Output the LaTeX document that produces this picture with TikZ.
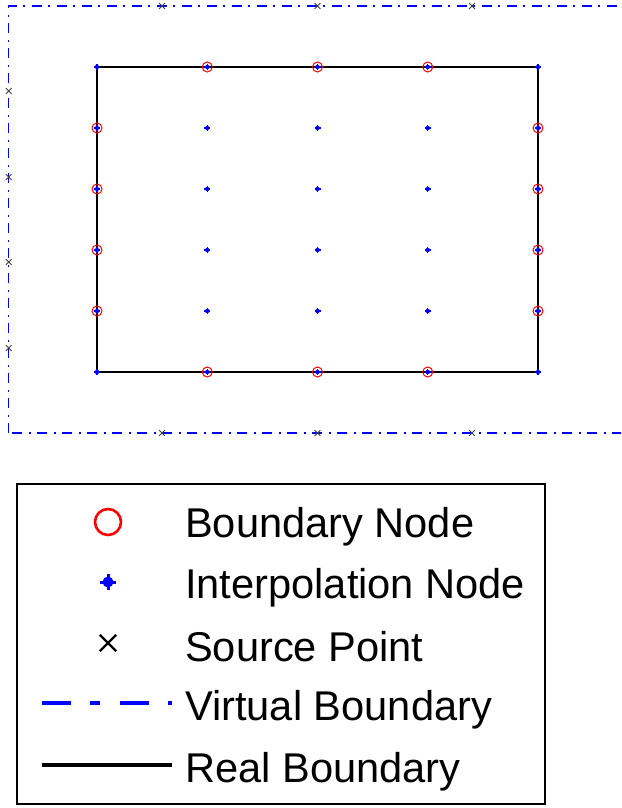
\documentclass[tikz,border=0pt]{standalone}
\usepackage{fontspec}
\setmainfont{Liberation Sans}
\usetikzlibrary{shapes.misc}
\definecolor{vblue}{RGB}{0,0,255}
\definecolor{bred}{RGB}{255,0,0}
\tikzset{
  realb/.style={draw=black, line width=1.3pt},
  virtb/.style={draw=vblue, line width=1.2pt, dash pattern=on 10pt off 6pt on 2pt off 7pt},
  bnode/.style={circle, draw=bred, line width=1pt, inner sep=0pt, minimum size=10pt},
  inode/.style={circle, fill=vblue, inner sep=0pt, minimum size=4.5pt},
  spoint/.style={cross out, draw=black!75, line width=0.8pt, inner sep=0pt, minimum size=5pt},
  lgbnode/.style={circle, draw=bred, line width=2.6pt, inner sep=0pt, minimum size=26pt},
  lginode/.style={circle, fill=vblue, inner sep=0pt, minimum size=11pt},
  lgspoint/.style={cross out, draw=black, line width=2.4pt, inner sep=0pt, minimum size=14pt},
  lgtext/.style={anchor=base west, inner sep=0pt, font=\fontsize{41.6}{45}\selectfont},
}
\begin{document}
\begin{tikzpicture}[x=1pt, y=-1pt]
\clip (0,0) rectangle (621,808);
\fill[white] (0,0) rectangle (621,808);
% virtual boundary
\draw[virtb] (8.7,433) -- (8.7,6) -- (626,6) -- (626,433) -- cycle;
% real boundary
\coordinate (r1) at (97,67);
\coordinate (r2) at (538,67);
\coordinate (r3) at (538,372);
\coordinate (r4) at (97,372);
\draw[realb] (r1) -- (r2) -- (r3) -- (r4) -- cycle;
% boundary nodes
\foreach \x [count=\i] in {207.25,317.5,427.75} {
  \node[bnode] (bt\i) at (\x,67) {};
  \node[bnode] (bb\i) at (\x,372) {};
}
\foreach \y [count=\i] in {128,189,250,311} {
  \node[bnode] (bl\i) at (97,\y) {};
  \node[bnode] (br\i) at (538,\y) {};
}
% interpolation nodes (all grid points)
\foreach \x [count=\i] in {97,207.25,317.5,427.75,538} {
  \foreach \y [count=\j] in {67,128,189,250,311,372} {
    \node[inode] (n\i\j) at (\x,\y) {};
    \draw[vblue, line width=1.2pt] (n\i\j.center) ++(-3,0) -- ++(6,0) (n\i\j.center) ++(0,-3) -- ++(0,6);
  }
}
% source points
\foreach \x [count=\i] in {162,317.5,472} {
  \node[spoint] (st\i) at (\x,6) {};
  \node[spoint] (sb\i) at (\x,433) {};
}
\foreach \y [count=\i] in {91,177,262,348} {
  \node[spoint] (sl\i) at (8.7,\y) {};
}
% legend
\draw[black, line width=2.7pt] (17,484) rectangle (545,804);
\node[lgbnode] (lb) at (108,522) {};
\node[lginode] (li) at (108,582) {};
\draw[vblue, line width=3pt] (li.center) ++(-8,0) -- ++(16,0) (li.center) ++(0,-8) -- ++(0,16);
\node[lgspoint] (ls) at (108,643) {};
\coordinate (lv1) at (42,703);
\coordinate (lv2) at (172,703);
\draw[vblue, line width=4pt, dash pattern=on 29pt off 19pt on 10pt off 20pt] (lv1) -- (lv2);
\coordinate (lr1) at (42,765);
\coordinate (lr2) at (172,765);
\draw[black, line width=4pt] (lr1) -- (lr2);
\node[lgtext] (t1) at (185,537) {Boundary Node};
\node[lgtext] (t2) at (185,598) {Interpolation Node};
\node[lgtext] (t3) at (185,661) {Source Point};
\node[lgtext] (t4) at (185,720) {Virtual Boundary};
\node[lgtext] (t5) at (185,782) {Real Boundary};
\end{tikzpicture}
\end{document}
